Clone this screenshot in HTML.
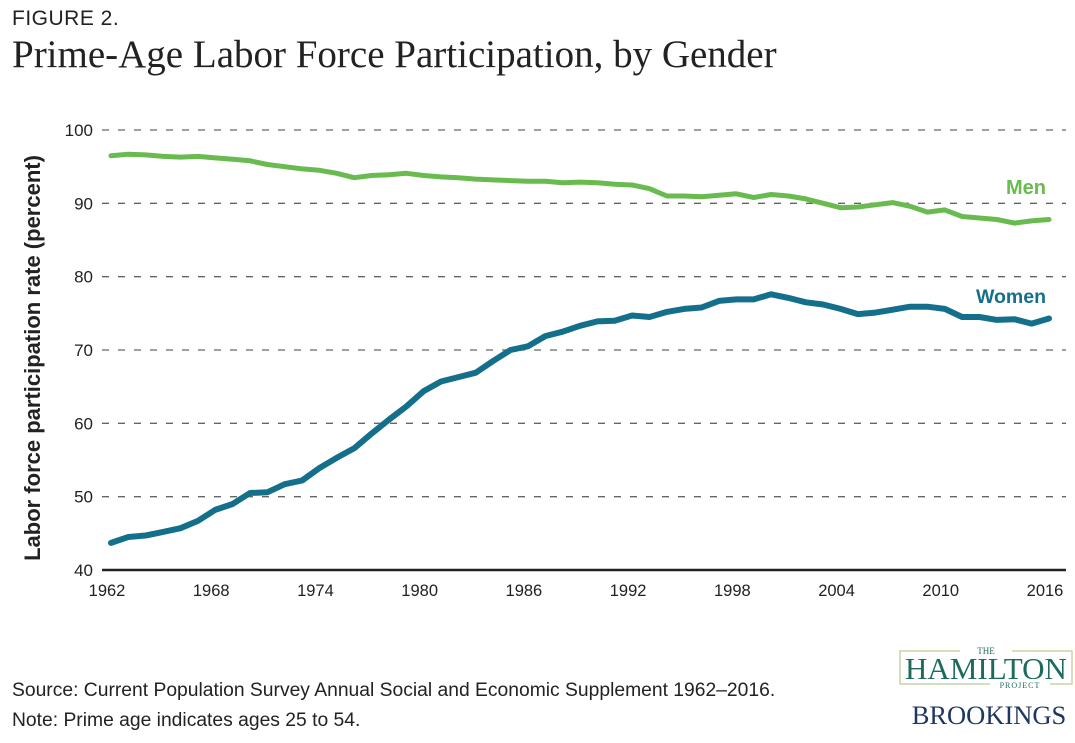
<!DOCTYPE html>
<html><head><meta charset="utf-8"><style>
body{margin:0;background:#fff;width:1075px;height:738px;overflow:hidden;font-family:"Liberation Sans",sans-serif}
</style></head><body>
<svg width="1075" height="738" xmlns="http://www.w3.org/2000/svg">
<text x="12" y="25" font-size="21" fill="#222" letter-spacing="0.5">FIGURE 2.</text>
<text x="12" y="67" font-family="Liberation Serif,serif" font-size="39" fill="#222">Prime-Age Labor Force Participation, by Gender</text>
<g id="grid"></g>
<g id="yt"></g><g id="xt"></g>
<line x1="102" x2="1066" y1="570" y2="570" stroke="#222" stroke-width="2.5"/>
<text transform="translate(40,358) rotate(-90)" text-anchor="middle" font-size="22" font-weight="bold" fill="#222">Labor force participation rate (percent)</text>
<path id="men" fill="none" stroke="#6abb4f" stroke-width="5" stroke-linejoin="round" stroke-linecap="round"/>
<path id="women" fill="none" stroke="#14708a" stroke-width="6" stroke-linejoin="round" stroke-linecap="round"/>
<text x="1046" y="194" text-anchor="end" font-size="20" font-weight="bold" fill="#6abb4f">Men</text>
<text x="1046" y="303" text-anchor="end" font-size="19.5" font-weight="bold" fill="#14708a">Women</text>
<text x="12" y="696" font-size="19.3" fill="#222">Source: Current Population Survey Annual Social and Economic Supplement 1962–2016.</text>
<text x="12" y="726" font-size="19.3" fill="#222">Note: Prime age indicates ages 25 to 54.</text>
<g font-family="Liberation Serif,serif">
<rect x="900" y="651" width="172" height="33" fill="none" stroke="#c9d3a8" stroke-width="1.5"/>
<rect x="960" y="645" width="52" height="10" fill="#fff"/>
<text x="986" y="654" text-anchor="middle" font-size="9" fill="#1d6b5e">THE</text>
<text x="986" y="679" text-anchor="middle" font-size="31" fill="#1d6b5e">HAMILTON</text>
<rect x="990" y="679" width="60" height="10" fill="#fff"/>
<text x="1020" y="688" text-anchor="middle" font-size="8" fill="#1d6b5e" letter-spacing="1">PROJECT</text>
<text x="989" y="724" text-anchor="middle" font-size="26.5" fill="#1e3760">BROOKINGS</text>
</g>
</svg>
<script>
const years=[];for(let y=1962;y<=2016;y++)years.push(y);
const menValues=[96.5,96.7,96.6,96.4,96.3,96.4,96.2,96.0,95.8,95.3,95.0,94.7,94.5,94.1,93.5,93.8,93.9,94.1,93.8,93.6,93.5,93.3,93.2,93.1,93.0,93.0,92.8,92.9,92.8,92.6,92.5,92.0,91.0,91.0,90.9,91.1,91.3,90.8,91.2,91.0,90.6,90.0,89.4,89.5,89.8,90.1,89.6,88.8,89.1,88.2,88.0,87.8,87.3,87.6,87.8];
const womenValues=[43.7,44.5,44.7,45.2,45.7,46.7,48.2,49.0,50.5,50.6,51.7,52.2,53.9,55.3,56.6,58.6,60.5,62.3,64.4,65.7,66.3,66.9,68.5,70.0,70.5,71.9,72.5,73.3,73.9,74.0,74.7,74.5,75.2,75.6,75.8,76.7,76.9,76.9,77.6,77.1,76.5,76.2,75.6,74.9,75.1,75.5,75.9,75.9,75.6,74.5,74.5,74.1,74.2,73.6,74.3];
const yTicks=[40,50,60,70,80,90,100];
const xTicks=[1962,1968,1974,1980,1986,1992,1998,2004,2010,2016];
const NS="http://www.w3.org/2000/svg";
const X=y=>111+(y-1962)*(1049-111)/54;
const Y=v=>570-(v-40)*(440/60);
const grid=document.getElementById('grid'),yt=document.getElementById('yt'),xt=document.getElementById('xt');
yTicks.forEach(v=>{
 if(v>40){const l=document.createElementNS(NS,'line');
 l.setAttribute('x1',102);l.setAttribute('x2',1066);l.setAttribute('y1',Y(v));l.setAttribute('y2',Y(v));
 l.setAttribute('stroke','#666');l.setAttribute('stroke-dasharray','7 9');l.setAttribute('stroke-width','1.3');
 
 
 grid.appendChild(l);}
 const t=document.createElementNS(NS,'text');t.setAttribute('x',93);t.setAttribute('y',Y(v)+6);
 t.setAttribute('text-anchor','end');t.setAttribute('font-size','17');t.setAttribute('fill','#222');t.textContent=v;
 
 
 yt.appendChild(t);});
xTicks.forEach(v=>{const t=document.createElementNS(NS,'text');t.setAttribute('x',X(v)-4);t.setAttribute('y',596);
 t.setAttribute('text-anchor','middle');t.setAttribute('font-size','16.5');t.setAttribute('fill','#222');t.textContent=v;
 
 
 xt.appendChild(t);});
const path=a=>a.map((v,i)=>(i?'L':'M')+X(years[i]).toFixed(1)+','+Y(v).toFixed(1)).join('');
document.getElementById('men').setAttribute('d',path(menValues));
document.getElementById('women').setAttribute('d',path(womenValues));
</script>
</body></html>
